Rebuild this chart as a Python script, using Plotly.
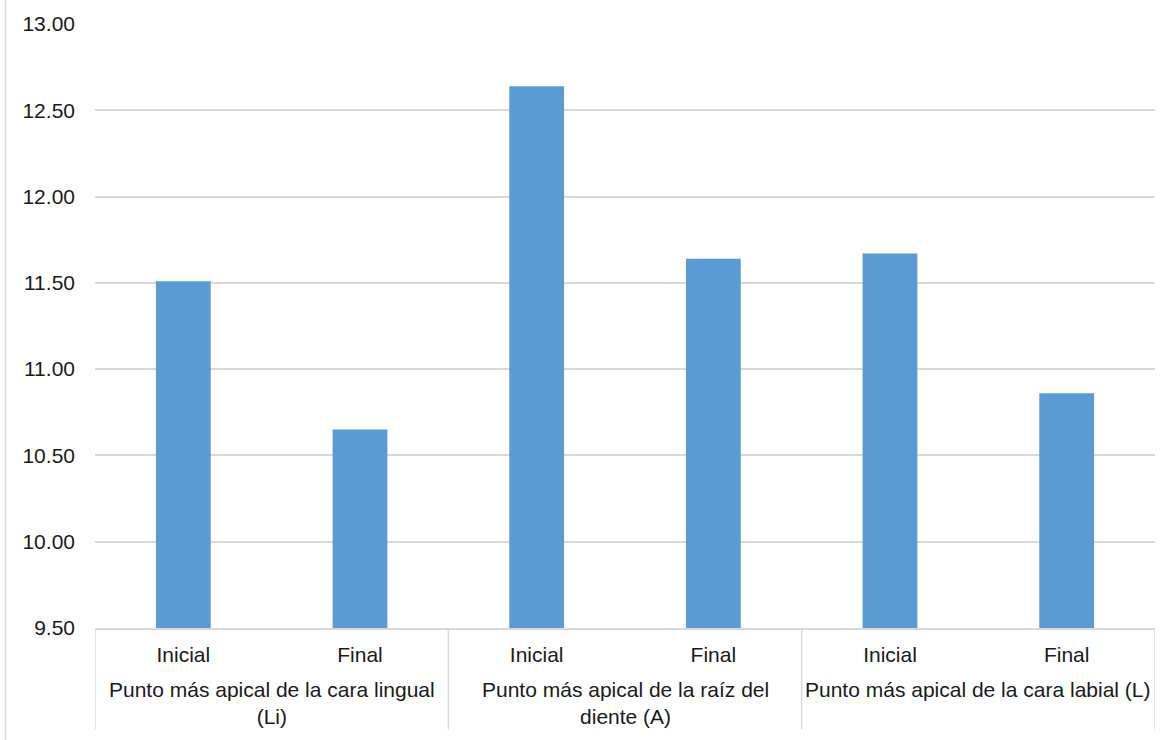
import plotly.graph_objects as go

# Measurement stage for each bar, and the landmark group each pair belongs to
stages = ["Inicial", "Final", "Inicial", "Final", "Inicial", "Final"]
groups = [
    "Punto más apical de la cara lingual<br>(Li)",
    "Punto más apical de la raíz del<br>diente (A)",
    "Punto más apical de la cara labial (L)",
]
values = [11.51, 10.65, 12.64, 11.64, 11.67, 10.86]

y_ticks = [9.5, 10.0, 10.5, 11.0, 11.5, 12.0, 12.5, 13.0]

BAR_COLOR = "#5b9bd5"
GRID = "#d9d9d9"
TEXT = "#1a1a1a"
FONT = "Liberation Sans, Arial, sans-serif"
FS = 21

positions = list(range(len(values)))
per_group = len(stages) // len(groups)

fig = go.Figure(
    go.Bar(
        x=positions,
        y=values,
        marker=dict(color=BAR_COLOR, line=dict(width=0)),
        width=0.31,
        hoverinfo="y",
    )
)

# Group labels centred under each Inicial/Final pair
for g, label in enumerate(groups):
    centre = g * per_group + (per_group - 1) / 2
    fig.add_annotation(
        x=centre, xref="x",
        y=-0.080, yref="paper",
        yanchor="top", showarrow=False,
        text=label,
        font=dict(size=FS, color=TEXT, family=FONT),
        align="center",
    )

# Vertical dividers between the groups, running below the axis
for g in range(len(groups) + 1):
    xpos = g * per_group - 0.5
    fig.add_shape(
        type="line", xref="x", yref="paper",
        x0=xpos, x1=xpos, y0=0, y1=-0.168,
        line=dict(color=GRID, width=1.5),
    )

# Thin frame line at the very left edge
fig.add_shape(
    type="line", xref="paper", yref="paper",
    x0=-0.0845, x1=-0.0845, y0=1.1, y1=-0.2,
    line=dict(color=GRID, width=1.5),
)

fig.update_layout(
    width=1171, height=740,
    margin=dict(l=95, r=16, t=20, b=112),
    paper_bgcolor="white",
    plot_bgcolor="white",
    showlegend=False,
    font=dict(family=FONT, size=FS, color=TEXT),
    xaxis=dict(
        range=[-0.5, len(values) - 0.5],
        tickmode="array",
        tickvals=positions,
        ticktext=stages,
        showgrid=False,
        zeroline=False,
        showline=True,
        linecolor=GRID,
        linewidth=1.5,
        ticks="",
        ticklabelstandoff=7,
        tickfont=dict(size=FS, color=TEXT, family=FONT),
        fixedrange=True,
    ),
    yaxis=dict(
        range=[9.5, 13.0],
        tickmode="array",
        tickvals=y_ticks,
        tickformat=".2f",
        showgrid=True,
        gridcolor=GRID,
        gridwidth=1.5,
        zeroline=False,
        showline=False,
        ticks="",
        ticklabelstandoff=19,
        tickfont=dict(size=FS, color=TEXT, family=FONT),
        fixedrange=True,
    ),
)

fig.write_html("out.html")
